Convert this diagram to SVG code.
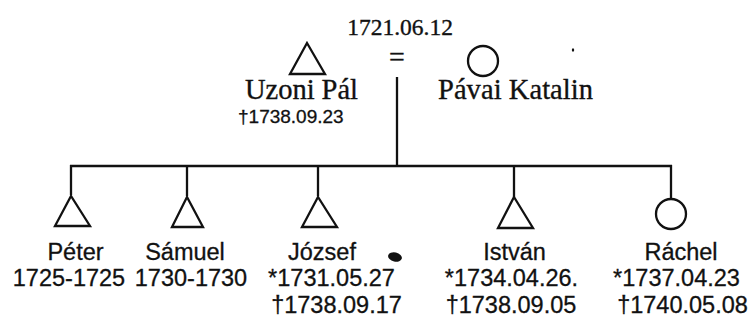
<svg xmlns="http://www.w3.org/2000/svg" width="756" height="324" viewBox="0 0 756 324">
<style>
.sym{fill:none;stroke:#111;stroke-width:2.3;stroke-linejoin:miter}
.ln{fill:none;stroke:#111;stroke-width:2.3}
.serif{font-family:"Liberation Serif","Times New Roman",serif;fill:#111;stroke:#111;stroke-width:0.35}
.sans{font-family:"Liberation Sans",Arial,sans-serif;fill:#111;stroke:#111;stroke-width:0.3;font-size:23.5px;text-anchor:middle}
</style>
<rect width="756" height="324" fill="#fff"/>
<g id="connectors">
<line class="ln" x1="397" y1="77" x2="397" y2="166"/>
<line class="ln" x1="70" y1="166" x2="672" y2="166"/>
<line class="ln" x1="71" y1="165" x2="71" y2="195"/>
<line class="ln" x1="187" y1="165" x2="187" y2="196"/>
<line class="ln" x1="318" y1="165" x2="318" y2="196"/>
<line class="ln" x1="514" y1="165" x2="514" y2="197"/>
<line class="ln" x1="671" y1="165" x2="671" y2="199"/>
</g>
<g id="marriage">
<text class="serif" x="400" y="35" font-size="23.5" text-anchor="middle">1721.06.12</text>
<text class="serif" x="397" y="66" font-size="28" text-anchor="middle">=</text>
</g>
<g id="uzoni-pal">
<polygon class="sym" points="307,43 290,74 325,74"/>
<text class="serif" x="245" y="99" font-size="28.5" textLength="113" lengthAdjust="spacing">Uzoni Pál</text>
<text class="sans" x="238" y="123" style="font-size:19px;text-anchor:start">†1738.09.23</text>
</g>
<g id="pavai-katalin">
<circle class="sym" cx="483" cy="61" r="15"/>
<text class="serif" x="438" y="99" font-size="28.5" textLength="155" lengthAdjust="spacing">Pávai Katalin</text>
</g>
<g id="peter">
<polygon class="sym" points="71,196 55,226 90,226"/>
<text class="sans" x="75.5" y="260">Péter</text>
<text class="sans" x="69" y="286">1725-1725</text>
</g>
<g id="samuel">
<polygon class="sym" points="187,197 172,227 203,227"/>
<text class="sans" x="185" y="260">Sámuel</text>
<text class="sans" x="191" y="286">1730-1730</text>
</g>
<g id="jozsef">
<polygon class="sym" points="318,197 302,227 337,227"/>
<text class="sans" x="322" y="260">József</text>
<text class="sans" x="331.5" y="286">*1731.05.27</text>
<text class="sans" x="336.5" y="313">†1738.09.17</text>
</g>
<g id="istvan">
<polygon class="sym" points="514,197 498,228 533,228"/>
<text class="sans" x="514.5" y="260">István</text>
<text class="sans" x="511.5" y="286">*1734.04.26.</text>
<text class="sans" x="511" y="313">†1738.09.05</text>
</g>
<g id="rachel">
<circle class="sym" cx="671" cy="214" r="15"/>
<text class="sans" x="681" y="260">Ráchel</text>
<text class="sans" x="676.5" y="286">*1737.04.23</text>
<text class="sans" x="682.5" y="313">†1740.05.08</text>
</g>
<g id="specks" fill="#111">
<ellipse cx="395" cy="257" rx="7" ry="4.5" transform="rotate(12 395 257)"/>
<ellipse cx="573" cy="50" rx="1.2" ry="1.8"/>
</g>
</svg>
